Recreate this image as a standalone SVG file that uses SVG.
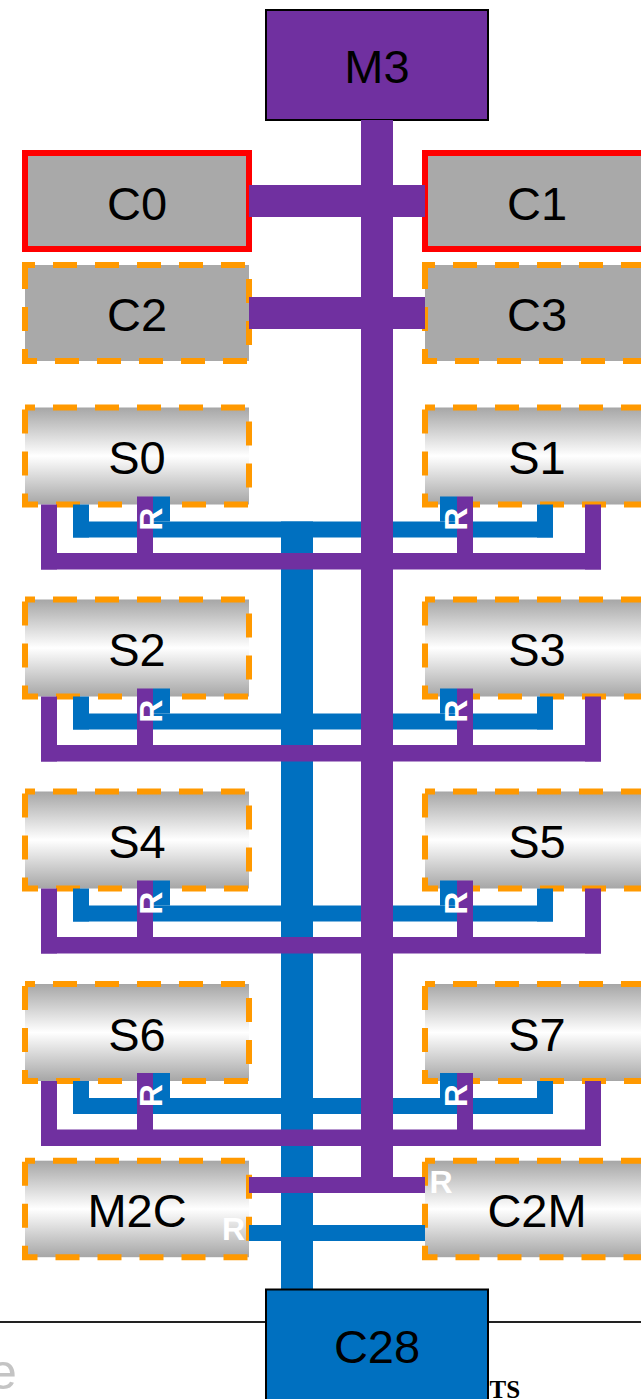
<svg xmlns="http://www.w3.org/2000/svg" width="641" height="1399" viewBox="0 0 641 1399">
<defs>
<linearGradient id="sg" x1="0" y1="0" x2="0" y2="1">
<stop offset="0" stop-color="#A6A6A6"/>
<stop offset="0.5" stop-color="#FFFFFF"/>
<stop offset="1" stop-color="#A6A6A6"/>
</linearGradient>
<style>
.lbl{font-family:"Liberation Sans",Arial,sans-serif;font-size:47px;fill:#000;text-anchor:middle}
.dash{stroke:#FF9900;stroke-width:6;stroke-dasharray:24 18;stroke-dashoffset:14}
.grad{fill:url(#sg)}
.gray{fill:#A9A9A9}
.red{fill:#A9A9A9;stroke:#FF0000;stroke-width:6}
.p{fill:#7030A0}
.b{fill:#0070C0}
.r{font-family:"Liberation Sans",Arial,sans-serif;font-size:32px;font-weight:bold;fill:#FFFFFF}
.rv{font-family:"Liberation Sans",Arial,sans-serif;font-size:32px;font-weight:bold;fill:#FFFFFF;text-anchor:middle}
</style>
</defs>
<rect width="641" height="1399" fill="#FFFFFF"/>
<line x1="0" y1="1322" x2="641" y2="1322" stroke="#222222" stroke-width="2"/>
<text x="-11" y="1389" font-family="Liberation Sans,Arial,sans-serif" font-size="50" fill="#C4C4C4">e</text>
<text x="489.5" y="1398" font-family="Liberation Serif,Times New Roman,serif" font-size="25" font-weight="bold" fill="#000">TS</text>

<g id="M3"><rect x="266" y="10" width="222" height="110" fill="#7030A0" stroke="#000" stroke-width="2"/><text class="lbl" x="377" y="82.5">M3</text></g>
<g id="C0"><rect class="red" x="25" y="153" width="224" height="96"/><text class="lbl" x="137" y="219.5">C0</text></g>
<g id="C1"><rect class="red" x="425" y="153" width="224" height="96"/><text class="lbl" x="537" y="219.5">C1</text></g>
<g id="C2"><rect class="gray dash" x="25" y="265" width="224" height="96"/><text class="lbl" x="137" y="330.5">C2</text></g>
<g id="C3"><rect class="gray dash" x="425" y="265" width="224" height="96"/><text class="lbl" x="537" y="330.5">C3</text></g>
<g id="S0"><rect class="grad dash" x="25" y="407.5" width="224" height="97"/><text class="lbl" x="137" y="474">S0</text></g>
<g id="S1"><rect class="grad dash" x="425" y="407.5" width="224" height="97"/><text class="lbl" x="537" y="474">S1</text></g>
<g id="S2"><rect class="grad dash" x="25" y="599.5" width="224" height="97"/><text class="lbl" x="137" y="666">S2</text></g>
<g id="S3"><rect class="grad dash" x="425" y="599.5" width="224" height="97"/><text class="lbl" x="537" y="666">S3</text></g>
<g id="S4"><rect class="grad dash" x="25" y="791.5" width="224" height="97"/><text class="lbl" x="137" y="858">S4</text></g>
<g id="S5"><rect class="grad dash" x="425" y="791.5" width="224" height="97"/><text class="lbl" x="537" y="858">S5</text></g>
<g id="S6"><rect class="grad dash" x="25" y="984" width="224" height="97"/><text class="lbl" x="137" y="1050.5">S6</text></g>
<g id="S7"><rect class="grad dash" x="425" y="984" width="224" height="97"/><text class="lbl" x="537" y="1050.5">S7</text></g>
<g id="M2C"><rect class="grad dash" x="25" y="1160.7" width="224" height="96.5"/><text class="lbl" x="137" y="1226.5">M2C</text></g>
<g id="C2M"><rect class="grad dash" x="425" y="1160.7" width="224" height="96.5"/><text class="lbl" x="537" y="1226.5">C2M</text></g>

<g id="connectors">
<!-- blue network -->
<rect class="b" x="281" y="521.5" width="32" height="768"/>
<rect class="b" x="249" y="1225" width="176" height="16"/>
<!-- row blue U's: B = 504.5, 696.5, 888.5, 1081 -->
<g>
<rect class="b" x="73" y="504.5" width="16" height="33"/><rect class="b" x="537" y="504.5" width="16" height="33"/><rect class="b" x="73" y="521.5" width="480" height="16"/><rect class="b" x="153" y="496.5" width="17" height="25"/><rect class="b" x="440" y="496.5" width="17" height="25"/>
</g>
<g>
<rect class="b" x="73" y="696.5" width="16" height="33"/><rect class="b" x="537" y="696.5" width="16" height="33"/><rect class="b" x="73" y="713.5" width="480" height="16"/><rect class="b" x="153" y="688.5" width="17" height="25"/><rect class="b" x="440" y="688.5" width="17" height="25"/>
</g>
<g>
<rect class="b" x="73" y="888.5" width="16" height="33"/><rect class="b" x="537" y="888.5" width="16" height="33"/><rect class="b" x="73" y="905.5" width="480" height="16"/><rect class="b" x="153" y="880.5" width="17" height="25"/><rect class="b" x="440" y="880.5" width="17" height="25"/>
</g>
<g>
<rect class="b" x="73" y="1081" width="16" height="33"/><rect class="b" x="537" y="1081" width="16" height="33"/><rect class="b" x="73" y="1098" width="480" height="16"/><rect class="b" x="153" y="1073" width="17" height="25"/><rect class="b" x="440" y="1073" width="17" height="25"/>
</g>
<!-- purple network -->
<rect class="p" x="361" y="120" width="32" height="1073"/>
<rect class="p" x="249" y="185" width="176" height="32"/>
<rect class="p" x="249" y="297" width="176" height="32"/>
<rect class="p" x="249" y="1177" width="176" height="16"/>
<g>
<rect class="p" x="41" y="504.5" width="16" height="65"/><rect class="p" x="585" y="504.5" width="16" height="65"/><rect class="p" x="41" y="553" width="560" height="16.5"/><rect class="p" x="137" y="496.5" width="16" height="57"/><rect class="p" x="457" y="496.5" width="16" height="57"/>
</g>
<g>
<rect class="p" x="41" y="696.5" width="16" height="65"/><rect class="p" x="585" y="696.5" width="16" height="65"/><rect class="p" x="41" y="745" width="560" height="16.5"/><rect class="p" x="137" y="688.5" width="16" height="57"/><rect class="p" x="457" y="688.5" width="16" height="57"/>
</g>
<g>
<rect class="p" x="41" y="888.5" width="16" height="65"/><rect class="p" x="585" y="888.5" width="16" height="65"/><rect class="p" x="41" y="937" width="560" height="16.5"/><rect class="p" x="137" y="880.5" width="16" height="57"/><rect class="p" x="457" y="880.5" width="16" height="57"/>
</g>
<g>
<rect class="p" x="41" y="1081" width="16" height="65"/><rect class="p" x="585" y="1081" width="16" height="65"/><rect class="p" x="41" y="1129.5" width="560" height="16.5"/><rect class="p" x="137" y="1073" width="16" height="57"/><rect class="p" x="457" y="1073" width="16" height="57"/>
</g>
<!-- R labels -->
<text class="rv" transform="translate(162 519.1) rotate(-90)">R</text>
<text class="rv" transform="translate(467 519.1) rotate(-90)">R</text>
<text class="rv" transform="translate(162 711.1) rotate(-90)">R</text>
<text class="rv" transform="translate(467 711.1) rotate(-90)">R</text>
<text class="rv" transform="translate(162 903.1) rotate(-90)">R</text>
<text class="rv" transform="translate(467 903.1) rotate(-90)">R</text>
<text class="rv" transform="translate(162 1095.6) rotate(-90)">R</text>
<text class="rv" transform="translate(467 1095.6) rotate(-90)">R</text>
<text class="r" x="222" y="1240">R</text>
<text class="r" x="429.5" y="1192.5">R</text>
</g>

<g id="C28"><rect x="266" y="1289.5" width="222" height="120" fill="#0070C0" stroke="#000" stroke-width="2"/><text class="lbl" x="377" y="1363">C28</text></g>
</svg>
